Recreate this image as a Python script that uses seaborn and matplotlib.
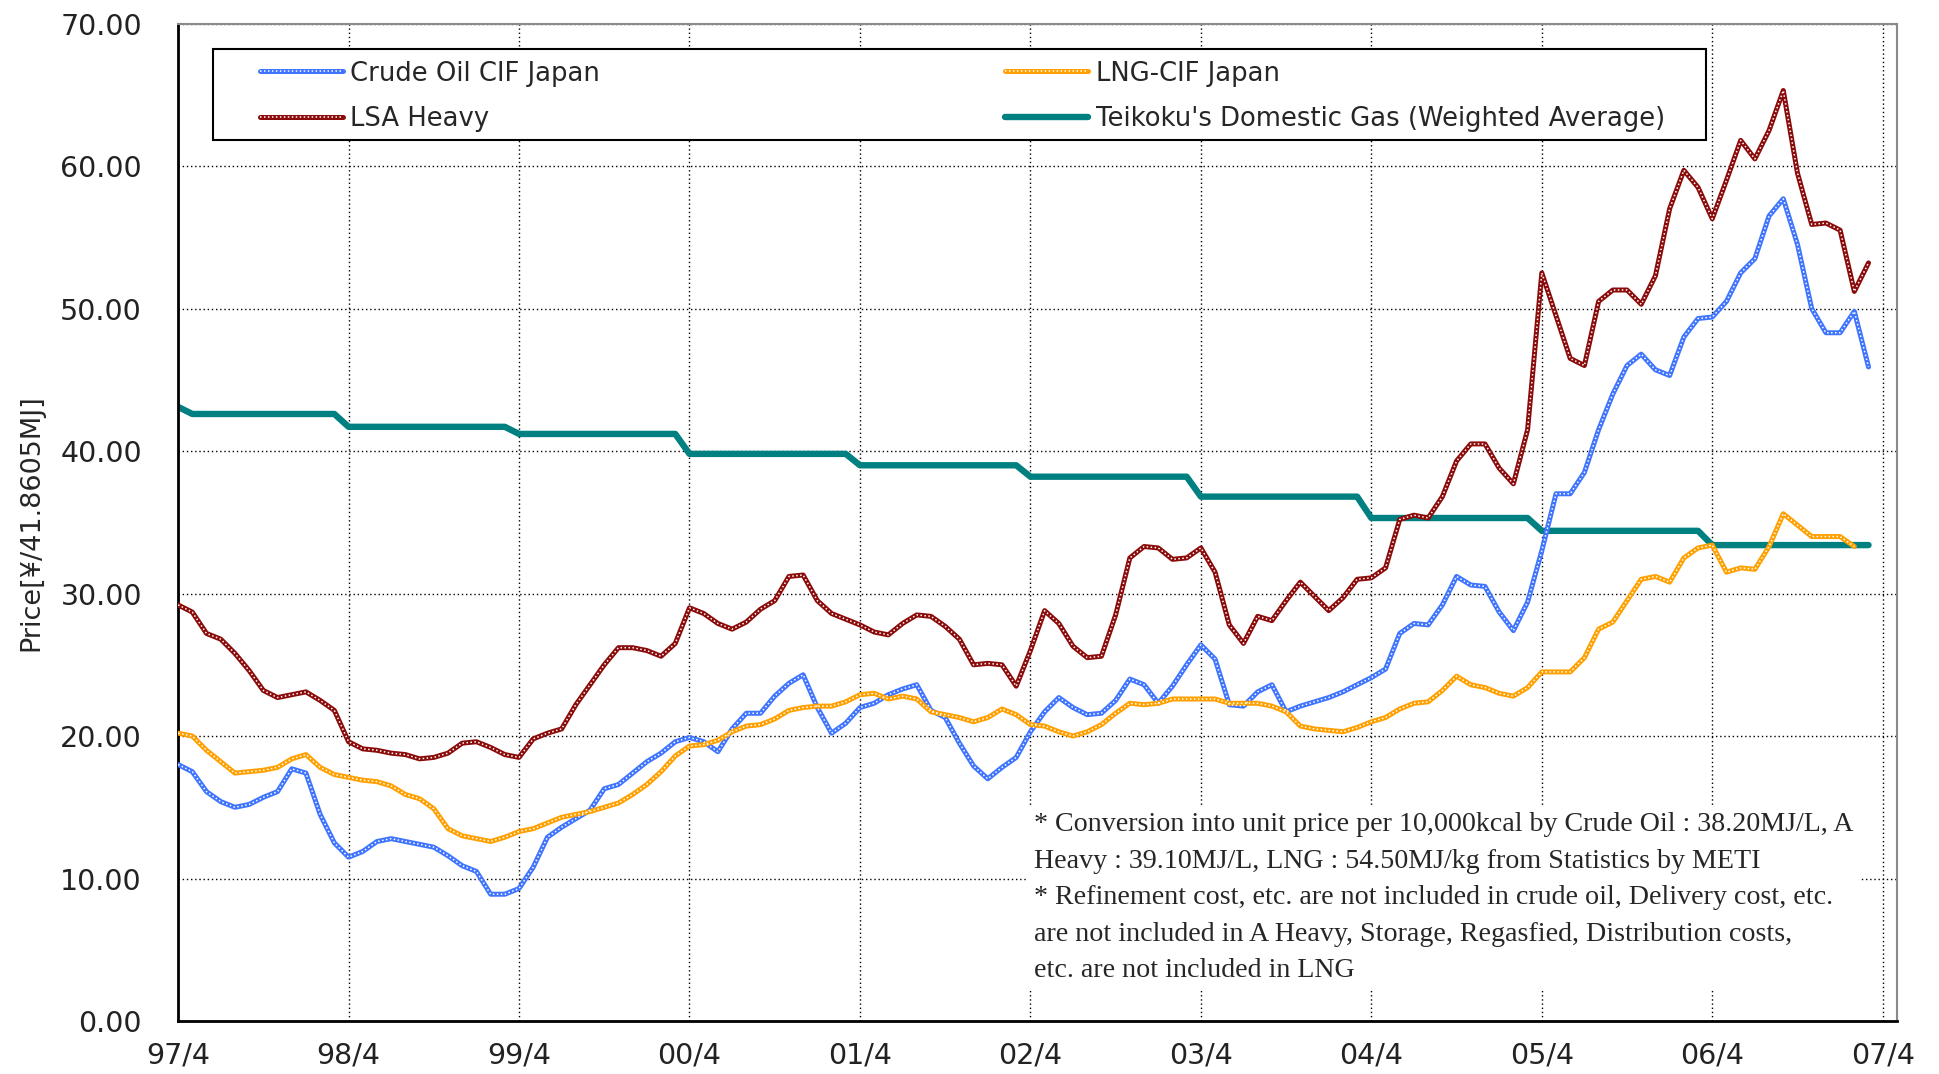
import numpy as np
import pandas as pd
import matplotlib
matplotlib.use("Agg")
import matplotlib.pyplot as plt
from matplotlib import font_manager
from matplotlib.patches import Rectangle
from matplotlib.legend_handler import HandlerTuple
import seaborn as sns

# ─── Data: monthly prices [yen / 41.8605MJ], first point = 97/4 ──────────────
crude_oil = [
    18.0, 17.5, 16.1, 15.4, 15.0, 15.2, 15.7, 16.1, 17.7, 17.4, 14.5, 12.5,
    11.5, 11.9, 12.6, 12.8, 12.6, 12.4, 12.2, 11.6, 10.9, 10.5, 8.9, 8.9,
    9.3, 10.8, 12.9, 13.6, 14.2, 14.8, 16.3, 16.6, 17.4, 18.2, 18.8, 19.6,
    19.9, 19.6, 18.9, 20.5, 21.6, 21.6, 22.8, 23.7, 24.3, 22.0, 20.2, 20.9,
    22.0, 22.3, 22.9, 23.3, 23.6, 21.8, 21.3, 19.5, 17.9, 17.0, 17.8, 18.5,
    20.3, 21.7, 22.7, 22.0, 21.5, 21.6, 22.5, 24.0, 23.6, 22.3, 23.5, 25.0,
    26.4, 25.4, 22.2, 22.1, 23.1, 23.6, 21.7, 22.1, 22.4, 22.7, 23.1, 23.6,
    24.1, 24.7, 27.2, 27.9, 27.8, 29.2, 31.2, 30.6, 30.5, 28.7, 27.4, 29.4,
    33.0, 37.0, 37.0, 38.5, 41.5, 44.0, 46.0, 46.8, 45.7, 45.3, 48.0, 49.3,
    49.4, 50.5, 52.5, 53.5, 56.5, 57.7, 54.5, 50.0, 48.3, 48.3, 49.8, 45.9,
]
lsa_heavy = [
    29.2, 28.7, 27.2, 26.8, 25.8, 24.6, 23.2, 22.7, 22.9, 23.1, 22.5, 21.8,
    19.6, 19.1, 19.0, 18.8, 18.7, 18.4, 18.5, 18.8, 19.5, 19.6, 19.2, 18.7,
    18.5, 19.8, 20.2, 20.5, 22.2, 23.6, 25.0, 26.2, 26.2, 26.0, 25.6, 26.5,
    29.0, 28.6, 27.9, 27.5, 28.0, 28.9, 29.5, 31.2, 31.3, 29.5, 28.6, 28.2,
    27.8, 27.3, 27.1, 27.9, 28.5, 28.4, 27.7, 26.8, 25.0, 25.1, 25.0, 23.5,
    26.0, 28.8, 27.9, 26.3, 25.5, 25.6, 28.5, 32.5, 33.3, 33.2, 32.4, 32.5,
    33.2, 31.5, 27.8, 26.5, 28.4, 28.1, 29.5, 30.8, 29.8, 28.8, 29.7, 31.0,
    31.1, 31.8, 35.2, 35.5, 35.3, 36.8, 39.3, 40.5, 40.5, 38.8, 37.7, 41.5,
    52.5, 49.5, 46.5, 46.0, 50.5, 51.3, 51.3, 50.3, 52.3, 57.0, 59.7, 58.5,
    56.3, 59.0, 61.8, 60.5, 62.5, 65.3, 59.5, 55.9, 56.0, 55.5, 51.2, 53.2,
]
lng_cif = [
    20.2, 20.0, 19.0, 18.2, 17.4, 17.5, 17.6, 17.8, 18.4, 18.7, 17.8, 17.3,
    17.1, 16.9, 16.8, 16.5, 15.9, 15.6, 14.9, 13.5, 13.0, 12.8, 12.6, 12.9,
    13.3, 13.5, 13.9, 14.3, 14.5, 14.7, 15.0, 15.3, 15.9, 16.6, 17.5, 18.6,
    19.3, 19.4, 19.7, 20.3, 20.7, 20.8, 21.2, 21.8, 22.0, 22.1, 22.1, 22.4,
    22.9, 23.0, 22.6, 22.8, 22.6, 21.7, 21.5, 21.3, 21.0, 21.3, 21.9, 21.5,
    20.8, 20.7, 20.3, 20.0, 20.3, 20.8, 21.6, 22.3, 22.2, 22.3, 22.6, 22.6,
    22.6, 22.6, 22.3, 22.3, 22.3, 22.1, 21.7, 20.7, 20.5, 20.4, 20.3, 20.6,
    21.0, 21.3, 21.9, 22.3, 22.4, 23.2, 24.2, 23.6, 23.4, 23.0, 22.8, 23.4,
    24.5, 24.5, 24.5, 25.5, 27.5, 28.0, 29.5, 31.0, 31.2, 30.8, 32.5, 33.2,
    33.4, 31.5, 31.8, 31.7, 33.3, 35.6, 34.8, 34.0, 34.0, 34.0, 33.3,
]
teikoku_gas = [
    43.1, 42.6, 42.6, 42.6, 42.6, 42.6, 42.6, 42.6, 42.6, 42.6, 42.6, 42.6,
    41.7, 41.7, 41.7, 41.7, 41.7, 41.7, 41.7, 41.7, 41.7, 41.7, 41.7, 41.7,
    41.2, 41.2, 41.2, 41.2, 41.2, 41.2, 41.2, 41.2, 41.2, 41.2, 41.2, 41.2,
    39.8, 39.8, 39.8, 39.8, 39.8, 39.8, 39.8, 39.8, 39.8, 39.8, 39.8, 39.8,
    39.0, 39.0, 39.0, 39.0, 39.0, 39.0, 39.0, 39.0, 39.0, 39.0, 39.0, 39.0,
    38.2, 38.2, 38.2, 38.2, 38.2, 38.2, 38.2, 38.2, 38.2, 38.2, 38.2, 38.2,
    36.8, 36.8, 36.8, 36.8, 36.8, 36.8, 36.8, 36.8, 36.8, 36.8, 36.8, 36.8,
    35.3, 35.3, 35.3, 35.3, 35.3, 35.3, 35.3, 35.3, 35.3, 35.3, 35.3, 35.3,
    34.4, 34.4, 34.4, 34.4, 34.4, 34.4, 34.4, 34.4, 34.4, 34.4, 34.4, 34.4,
    33.4, 33.4, 33.4, 33.4, 33.4, 33.4, 33.4, 33.4, 33.4, 33.4, 33.4, 33.4,
]

x_tick_labels = ["97/4", "98/4", "99/4", "00/4", "01/4", "02/4",
                 "03/4", "04/4", "05/4", "06/4", "07/4"]
y_ticks = [0, 10, 20, 30, 40, 50, 60, 70]

NOTE = ("* Conversion into unit price per 10,000kcal by Crude Oil : 38.20MJ/L, A\n"
        "Heavy : 39.10MJ/L, LNG : 54.50MJ/kg from Statistics by METI\n"
        "* Refinement cost, etc. are not included in crude oil, Delivery cost, etc.\n"
        "are not included in A Heavy, Storage, Regasfied, Distribution costs,\n"
        "etc. are not included in LNG")

# ─── Style ────────────────────────────────────────────────────────────────────
sns.set_style("white")
installed = {f.name for f in font_manager.fontManager.ttflist}
if "Liberation Sans Narrow" in installed:
    GOTHIC, TICK_SIZE = "Liberation Sans Narrow", 24
else:
    GOTHIC, TICK_SIZE = "DejaVu Sans", 20.5
plt.rcParams["font.family"] = [GOTHIC, "DejaVu Sans"]

fig = plt.figure(figsize=(19.4, 10.74), dpi=100)
ax = fig.add_axes([0.0918, 0.0493, 0.886, 0.9288])

# ─── Series ───────────────────────────────────────────────────────────────────
def frame(values):
    return pd.DataFrame({"month": np.arange(len(values)), "price": values})

teal_df = frame(teikoku_gas)
sns.lineplot(data=teal_df, x="month", y="price", color="#008080", lw=4.6,
             errorbar=None, ax=ax, zorder=2)
teal_line = ax.lines[-1]

# oil series: thick coloured line with a white dotted core -> "beaded" look
handles = {}
for name, vals, color in [("crude", crude_oil, "#3F74FF"),
                          ("lng", lng_cif, "#FFA000"),
                          ("lsa", lsa_heavy, "#8B0A0A")]:
    df = frame(vals)
    sns.lineplot(data=df, x="month", y="price", color=color, lw=3.6,
                 errorbar=None, ax=ax, zorder=3)
    line = ax.lines[-1]
    dots, = ax.plot(df["month"], df["price"], color="white", lw=1.1,
                    ls=(0, (1, 1.6)), zorder=4)
    handles[name] = (line, dots)

# ─── Axes ─────────────────────────────────────────────────────────────────────
ax.set_xlim(0, 121)
ax.set_ylim(0, 70)
ax.set_xticks(np.arange(0, 121, 12))
ax.set_xticklabels(x_tick_labels)
ax.set_yticks(y_ticks)
ax.set_yticklabels([f"{v:.2f}" for v in y_ticks])
ax.set_xlabel("")
ax.set_ylabel("Price[¥/41.8605MJ]", fontsize=19.5)
ax.yaxis.set_label_coords(-0.078, 0.5)

ax.set_axisbelow(True)
ax.grid(True, color="black", ls=(0, (1, 2)), lw=1.0)
ax.tick_params(axis="both", direction="in", length=7, width=1.5,
               color="black", labelsize=TICK_SIZE, labelcolor="#222222")
ax.tick_params(axis="x", pad=15)
ax.tick_params(axis="y", pad=26)

for side in ["left", "bottom"]:
    ax.spines[side].set_color("black")
    ax.spines[side].set_linewidth(2)
for side in ["top", "right"]:
    ax.spines[side].set_color("#8a8a8a")
    ax.spines[side].set_linewidth(1.5)

# ─── Legend (frame drawn separately so the inner padding can be wider) ────────
ax.add_patch(Rectangle((0.0204, 0.8832), 0.8685, 0.0912, transform=ax.transAxes,
                       facecolor="white", edgecolor="black", lw=1.5, zorder=6))
leg = ax.legend(
    handles=[handles["crude"], handles["lsa"], handles["lng"], teal_line],
    labels=["Crude Oil CIF Japan", "LSA Heavy", "LNG-CIF Japan",
            "Teikoku's Domestic Gas (Weighted Average)"],
    handler_map={tuple: HandlerTuple(ndivide=1)},
    ncol=2, mode="expand", loc="upper left",
    bbox_to_anchor=(0.0477, 0.9129, 0.8173, 0.05), borderaxespad=0,
    handlelength=3.2, handletextpad=0.3, labelspacing=0.76, borderpad=0,
    prop={"family": "DejaVu Sans", "size": 18.6},
    frameon=False,
)
leg.set_zorder(7)

# ─── Footnote ─────────────────────────────────────────────────────────────────
ax.text(0.498, 0.2095, NOTE, transform=ax.transAxes, ha="left", va="top",
        family="Liberation Serif", fontsize=20.2, linespacing=1.61,
        bbox=dict(facecolor="white", edgecolor="none", pad=4), zorder=5)

fig.savefig("out.png", dpi=100)
plt.close(fig)
